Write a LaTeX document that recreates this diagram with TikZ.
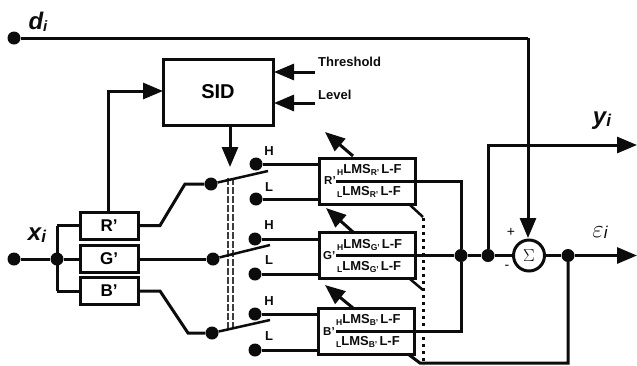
\documentclass[tikz,border=0pt]{standalone}
\usepackage{fontspec}
\setmainfont{Liberation Sans}
\usetikzlibrary{arrows.meta}
\definecolor{ink}{HTML}{0C0C0C}
\newcommand{\smallsub}[1]{\raisebox{-2pt}{\fontsize{8.5}{9}\selectfont #1}}
\newcommand{\lmstext}[2]{\smallsub{#1}\fontsize{13}{14}\selectfont LMS\smallsub{#2}\,L-F}
\tikzset{
  x=1pt,y=-1pt,
  wire/.style={draw=ink,line width=3pt},
  thinwire/.style={draw=ink,line width=2.5pt},
  sig/.style={wire,-{Triangle[length=20pt,width=16pt]}},
  dotn/.style={circle,fill=ink,draw=none,inner sep=0pt,minimum size=13pt},
  boxn/.style={draw=ink,line width=3pt,fill=white,inner sep=0pt},
  rgbbox/.style={boxn,minimum width=58pt,minimum height=27pt,font=\bfseries\fontsize{17}{18}\selectfont},
  lmsbox/.style={boxn,minimum width=96pt,minimum height=46pt},
  lbl/.style={inner sep=0pt,text=ink,font=\bfseries\fontsize{13}{14}\selectfont},
  chlbl/.style={inner sep=0pt,text=ink,font=\bfseries\fontsize{11.5}{12}\selectfont},
  lmslbl/.style={inner sep=0pt,text=ink,font=\bfseries},
  varlbl/.style={inner sep=0pt,text=ink,font=\bfseries\itshape\fontsize{24}{26}\selectfont},
  gang/.style={draw=ink!80,line width=2.3pt,dash pattern=on 6.5pt off 2.5pt},
  dottedcol/.style={draw=ink,line width=3pt,dash pattern=on 3pt off 4pt},
}
\begin{document}
\begin{tikzpicture}
\useasboundingbox (0,0) rectangle (637,365);
\fill[white] (0,0) rectangle (637,365);

% boxes
\node[rgbbox] (R) at (109,225.5) {R'};
\node[rgbbox] (G) at (109,259) {G'};
\node[rgbbox] (B) at (109,291) {B'};
\node[boxn,minimum width=110pt,minimum height=66pt,font=\bfseries\fontsize{20}{22}\selectfont] (SID) at (218,92) {SID};
\node[lmsbox] (F1) at (367.5,181) {};
\node[lmsbox] (F2) at (367.5,255.5) {};
\node[lmsbox] (F3) at (366.5,331.5) {};
\node[circle,draw=ink,line width=3pt,fill=white,minimum size=31pt,inner sep=0pt,font=\fontsize{19}{20}\selectfont] (S) at (529,255.5) {$\Sigma$};

% points
\node[dotn] (d) at (14,38) {};
\node[dotn] (x) at (14,259) {};
\node[dotn] (j) at (57,259) {};
\node[dotn] (p1) at (211,184) {};
\node[dotn] (h1) at (256,164) {};
\node[dotn] (l1) at (256,199) {};
\node[dotn] (p2) at (213,259) {};
\node[dotn] (h2) at (255,239) {};
\node[dotn] (l2) at (255,274) {};
\node[dotn] (p3) at (212,333) {};
\node[dotn] (h3) at (255,314) {};
\node[dotn] (l3) at (255,350) {};
\node[dotn] (o) at (461,255.5) {};
\node[dotn] (o2) at (488,255.5) {};
\node[dotn] (e) at (568,255.5) {};

% coordinates
\coordinate (dc) at (528,38);
\coordinate (ye) at (637,145);
\coordinate (yc) at (488,145);
\coordinate (ee) at (637,255.5);
\coordinate (Tt) at (315,72);
\coordinate (Tb) at (315,103);
\coordinate (T1) at (274,72);
\coordinate (T2) at (274,103);
\coordinate (Rup) at (108,91);
\coordinate (SL) at (163,91);
\coordinate (Sd) at (230,125);
\coordinate (Sa) at (230,167);

% gang
\draw[gang] (228,178) -- (228,330);
\draw[gang] (233,178) -- (233,330);

% input wiring
\draw[wire] (d) -- (dc);
\draw[sig] (dc) -- (528,238);
\draw[wire] (x) -- (j);
\draw[wire] (j) -- (G);
\draw[wire] (57,225.5) -- (R.west);
\draw[wire] (57,225.5) -- (57,291);
\draw[wire] (57,291) -- (B.west);
\draw[sig] (R.north -| Rup) -- (Rup) -- (SL);
\draw[sig] (Tt) -- (T1);
\draw[sig] (Tb) -- (T2);
\draw[sig] (Sd) -- (Sa);

\draw[wire] (R.east) -- (160,225.5) -- (185,184) -- (p1);
\draw[wire] (G.east) -- (p2);
\draw[wire] (B.east) -- (160,291) -- (188,333) -- (p3);

% switch blades
\coordinate (b1) at (268,171);
\coordinate (b2) at (270,245);
\coordinate (b3) at (270,320);
\draw[thinwire] (p1) -- (b1);
\draw[thinwire] (p2) -- (b2);
\draw[thinwire] (p3) -- (b3);

% contacts
\draw[wire] (h1) -- (h1 -| F1.west);
\draw[wire] (l1) -- (l1 -| F1.west);
\draw[wire] (h2) -- (h2 -| F2.west);
\draw[wire] (l2) -- (l2 -| F2.west);
\draw[wire] (h3) -- (h3 -| F3.west);
\draw[wire] (l3) -- (l3 -| F3.west);

% filter contents
\draw[wire] (336,181) -- (F1.east);
\draw[wire] (336,255.5) -- (F2.east);
\draw[wire] (336,331.5) -- (F3.east);
\draw[wire] (F1.east) -- (461,181) -- (o);
\draw[wire] (F3.east) -- (461,331.5) -- (o);
\draw[wire] (F2.east) -- (o) -- (o2) -- (S);
\draw[sig] (o2) -- (yc) -- (ye);
\draw[wire] (S) -- (e);
\draw[sig] (e) -- (ee);
\coordinate (br) at (568,363);
\coordinate (t3) at (420,363);
\draw[wire] (e) -- (br) -- (t3) -- (408,354);

% adaptation arrows
\coordinate (a1) at (325,132);
\coordinate (a2) at (326,208);
\coordinate (a3) at (325,285);
\draw[sig] (353,156) -- (a1);
\draw[sig] (353,232) -- (a2);
\draw[sig] (353,308) -- (a3);

% dotted link
\draw[thinwire] (410,205) -- (423,217);
\draw[thinwire] (410,279) -- (423,290);
\draw[dottedcol] (423,218) -- (423,365);

% labels
\node[lmslbl,anchor=west] (t1) at (337,170) {\lmstext{H}{R'}};
\node[lmslbl,anchor=west] (t2) at (337,192) {\lmstext{L}{R'}};
\node[lmslbl,anchor=west] (t3b) at (337,245) {\lmstext{H}{G'}};
\node[lmslbl,anchor=west] (t4) at (337,267) {\lmstext{L}{G'}};
\node[lmslbl,anchor=west] (t5) at (336,320) {\lmstext{H}{B'}};
\node[lmslbl,anchor=west] (t6) at (336,342) {\lmstext{L}{B'}};
\node[chlbl,anchor=west] (r1) at (324,181) {R'};
\node[chlbl,anchor=west] (r2) at (323,256) {G'};
\node[chlbl,anchor=west] (r3) at (323,332) {B'};

\node[lbl] (hh1) at (269,151) {H};
\node[lbl] (ll1) at (269,187) {L};
\node[lbl] (hh2) at (269,225) {H};
\node[lbl] (ll2) at (269,260) {L};
\node[lbl] (hh3) at (269,301) {H};
\node[lbl] (ll3) at (269,336) {L};

\node[lbl,anchor=west] (th) at (318,62) {Threshold};
\node[lbl,anchor=west] (le) at (318,95) {Level};

\node[varlbl] (dl) at (38,22) {d\raisebox{-2pt}{\fontsize{15}{16}\selectfont i}};
\node[varlbl] (xl) at (37,235) {x\raisebox{-2pt}{\fontsize{17}{18}\selectfont i}};
\node[varlbl] (yl) at (602,121) {y\raisebox{-2pt}{\fontsize{17}{18}\selectfont i}};
\node[inner sep=0pt,text=ink,font=\fontsize{24}{26}\selectfont] (el) at (600,232) {$\varepsilon$\raisebox{-1pt}{\itshape\fontsize{17}{18}\selectfont i}};
\node[inner sep=0pt,text=ink,font=\fontsize{14}{15}\selectfont] (pl) at (511,232) {+};
\node[inner sep=0pt,text=ink,font=\fontsize{14}{15}\selectfont] (ml) at (507,267) {-};
\end{tikzpicture}
\end{document}
